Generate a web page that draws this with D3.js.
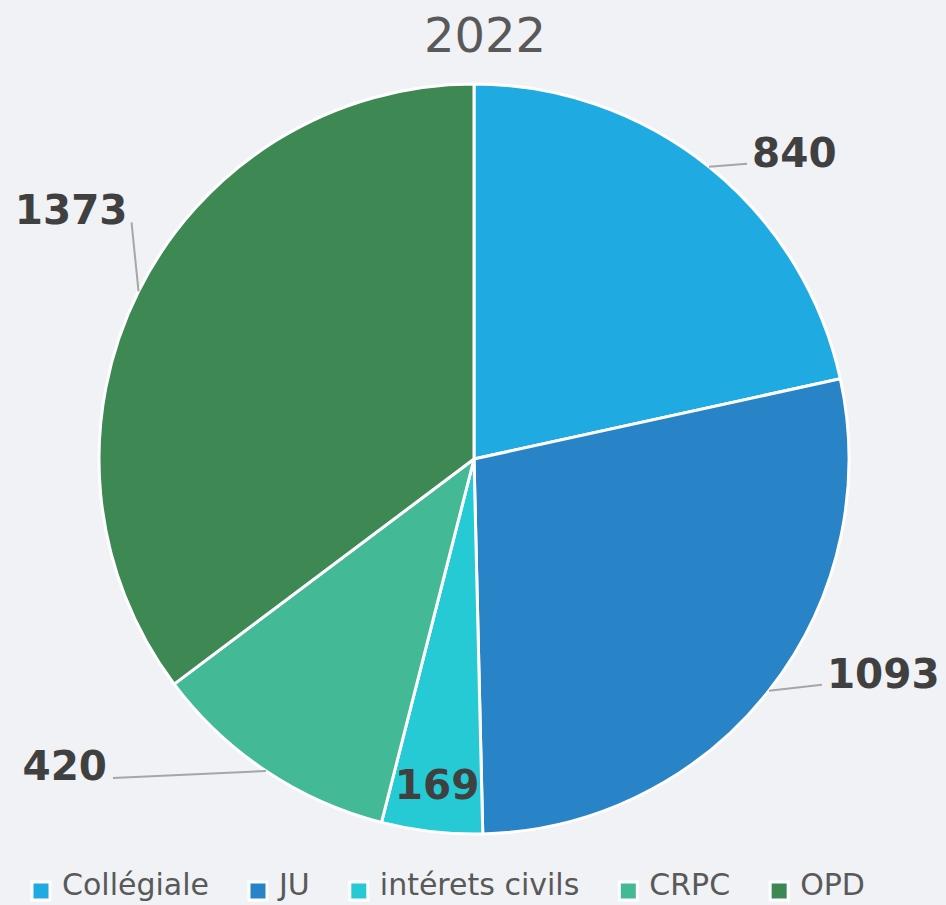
<!DOCTYPE html>
<html>
<head>
<meta charset="utf-8">
<title>2022</title>
<script src="https://d3js.org/d3.v7.min.js"></script>
<style>
  body { margin: 0; background: #f0f2f5; }
  svg { display: block; font-family: "DejaVu Sans", Verdana, sans-serif; }
</style>
</head>
<body>
<div id="chart"></div>
<script>
var categories = ["Collégiale", "JU", "intérets civils", "CRPC", "OPD"];
var values = [840, 1093, 169, 420, 1373];
var colors = ["#1fabe2", "#2884c6", "#26cad4", "#43b995", "#3e8853"];
var title = "2022";

var width = 946, height = 905;
var cx = 474, cy = 459, radius = 375;

// label placement relative to the slice's outer point: [text dx, text dy, anchor, line end dx, line end dy, outside]
var labelPos = [
  [43, 0, "start", 38, -3, true],
  [58, -3, "start", 53, -6, true],
  [0, 0, "middle", 0, 0, false],
  [-159, 9, "end", -153, 7, true],
  [-11, -67, "end", -7, -69, true]
];

var svg = d3.select("#chart").append("svg")
    .attr("width", width)
    .attr("height", height);

svg.append("rect").attr("width", width).attr("height", height).attr("fill", "#f0f2f5");

svg.append("text")
    .attr("x", 485)
    .attr("y", 52)
    .attr("text-anchor", "middle")
    .attr("font-size", 48)
    .attr("fill", "#595959")
    .text(title);

var pie = d3.pie().sort(null).value(function(d) { return d; });
var arcs = pie(values);
var arc = d3.arc().innerRadius(0).outerRadius(radius);

var g = svg.append("g").attr("transform", "translate(" + cx + "," + cy + ")");

g.selectAll("path.slice")
  .data(arcs)
  .enter()
  .append("path")
  .attr("class", "slice")
  .attr("d", arc)
  .attr("fill", function(d, i) { return colors[i]; })
  .attr("stroke", "white")
  .attr("stroke-width", 3)
  .attr("stroke-linejoin", "round");

function edgePoint(d, r) {
  var a = (d.startAngle + d.endAngle) / 2;
  return [r * Math.sin(a), -r * Math.cos(a)];
}

arcs.forEach(function(d, i) {
  var lp = labelPos[i];
  var p, tx, ty;
  if (lp[5]) {
    p = edgePoint(d, radius);
    g.append("line")
      .attr("x1", p[0]).attr("y1", p[1])
      .attr("x2", p[0] + lp[3]).attr("y2", p[1] + lp[4])
      .attr("stroke", "#a6a6a6")
      .attr("stroke-width", 2);
    tx = p[0] + lp[0];
    ty = p[1] + lp[1];
  } else {
    p = edgePoint(d, radius - 47);
    tx = p[0];
    ty = p[1] + 14;
  }
  g.append("text")
    .attr("x", tx)
    .attr("y", ty)
    .attr("text-anchor", lp[2])
    .attr("font-size", 40.5)
    .attr("font-weight", "bold")
    .attr("fill", "#404040")
    .text(values[i]);
});

// legend
var legend = svg.append("g");
var lx = 0;
var items = legend.selectAll("g.item")
  .data(categories)
  .enter()
  .append("g")
  .attr("class", "item");

items.append("rect")
  .attr("width", 18)
  .attr("height", 18)
  .attr("y", -9)
  .attr("fill", function(d, i) { return colors[i]; })
  .attr("stroke", "white")
  .attr("stroke-width", 3);

items.append("text")
  .attr("x", 30)
  .attr("y", 4)
  .attr("font-size", 30)
  .attr("fill", "#595959")
  .text(function(d) { return d; });

items.each(function() {
  var w = d3.select(this).select("text").node().getComputedTextLength() + 30;
  d3.select(this).attr("transform", "translate(" + lx + ",0)");
  lx += w + 40;
});
legend.attr("transform", "translate(32,891)");
</script>
</body>
</html>
